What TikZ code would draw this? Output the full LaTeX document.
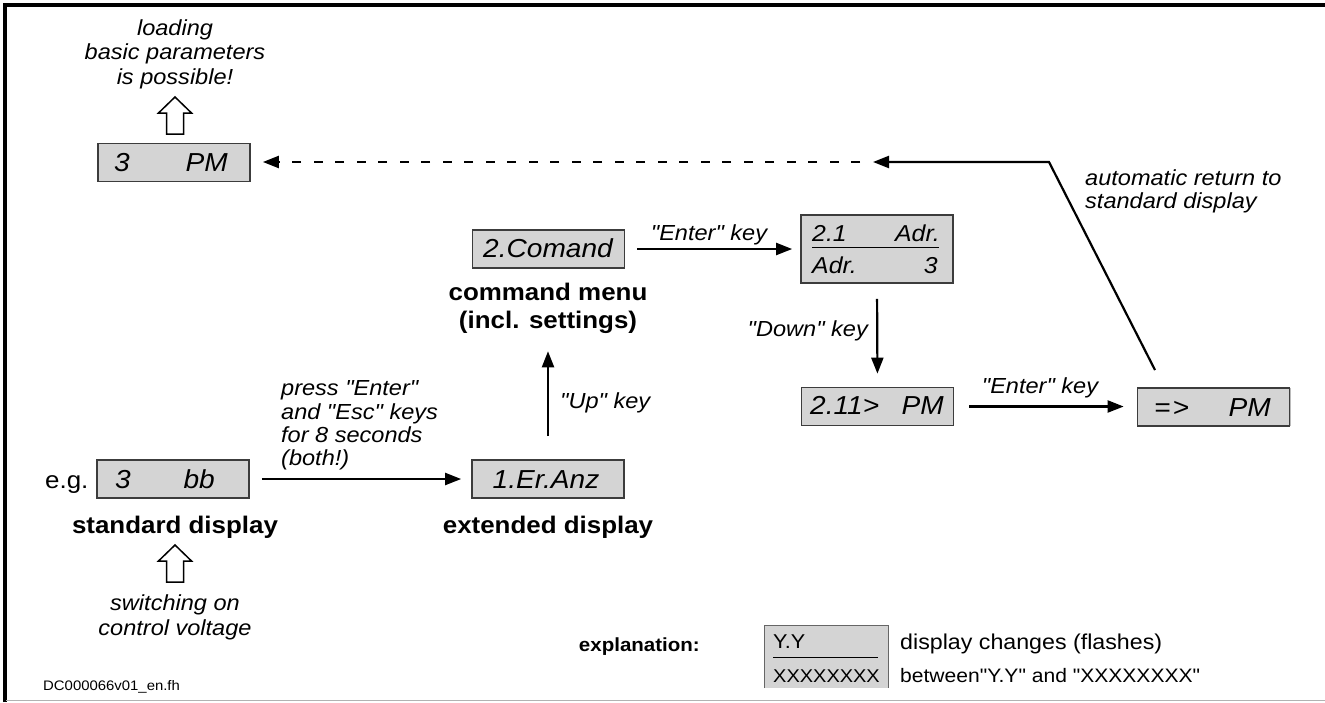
\documentclass[tikz,border=0pt]{standalone}
\usepackage{fontspec}
\setmainfont{Liberation Sans}[FakeStretch=1.08, Ligatures=TeXOff]
\usetikzlibrary{arrows.meta}
\definecolor{lcdfill}{RGB}{212,212,212}
\definecolor{lcdedge}{RGB}{60,60,60}
\begin{document}
\begin{tikzpicture}[x=1pt,y=-1pt,
  lcd/.style={draw=lcdedge, fill=lcdfill, line width=1.7pt, inner sep=0pt,
              minimum width=152pt, minimum height=38pt},
  lcdtxt/.style={font=\fontsize{26}{28}\selectfont\itshape, inner sep=0pt},
  lcdsmall/.style={font=\fontsize{23}{26}\selectfont\itshape, inner sep=0pt},
  lbl/.style={font=\fontsize{21.8}{24}\selectfont\itshape, inner sep=0pt},
  caption/.style={font=\fontsize{24}{28}\selectfont\bfseries, inner sep=0pt},
  note/.style={font=\fontsize{20}{22}\selectfont, inner sep=0pt},
  flow/.style={line width=2.2pt, -{Triangle[length=16pt,width=12pt]}},
  hollow/.style={draw=black, fill=white, line width=1.5pt, line join=miter}]

% page and frame
\useasboundingbox (0,0) rectangle (1325,702);
\fill[white] (0,0) rectangle (1325,702);
\draw[line width=3.5pt] (5.2,702) -- (5.2,4.8) -- (1325,4.8);
\draw[gray!60, line width=1pt] (6,700.5) -- (1325,700.5);

% display boxes
\node[lcd] (pm)    at (174,162.5) {};
\node[lcd] (bb)    at (173,479)   {};
\node[lcd] (comand) at (548.5,249) {};
\node[lcd, minimum height=68pt] (adr) at (877,249) {};
\node[lcd] (sub)   at (877.5,406.5) {};
\node[lcd] (done)  at (1213.5,407) {};
\node[lcd] (eranz) at (548,479)   {};
\draw[lcdfill!70!gray, line width=1.7pt] ([yshift=-0.9pt]done.north east) -- ([yshift=0.9pt]done.south east);

% display contents
\node[lcdtxt, anchor=base west] (pm-a) at (114,171.5) {3};
\node[lcdtxt, anchor=base east] (pm-b) at (228,171.5) {PM};
\node[lcdtxt, anchor=base west] (bb-a) at (115,488) {3};
\node[lcdtxt, anchor=base east] (bb-b) at (215,488) {bb};
\node[lcdtxt, anchor=base] (comand-t) at (548,257.5) {2.Comand};
\node[lcdsmall, anchor=base west] (adr-a) at (812,241.5) {2.1};
\node[lcdsmall, anchor=base east] (adr-b) at (940,241.5) {Adr.};
\node[lcdsmall, anchor=base west] (adr-c) at (812,273) {Adr.};
\node[lcdsmall, anchor=base east] (adr-d) at (938,273) {3};
\draw[line width=1.7pt] (812,247.5) -- (939,247.5);
\node[lcdtxt, anchor=base west] (sub-a) at (810,414.5) {2.11>};
\node[lcdtxt, anchor=base east] (sub-b) at (944,414.5) {PM};
\node[lcdtxt, anchor=base west] (done-a) at (1154,416) {=\kern2pt>};
\node[lcdtxt, anchor=base east] (done-b) at (1271,416) {PM};
\node[lcdtxt, anchor=base] (eranz-t) at (546,488) {1.Er.Anz};

% captions under the displays
\node[note, font=\fontsize{24}{26}\selectfont, anchor=base west] (eg) at (45,488) {e.g.};
\node[caption, anchor=base] (std) at (175,533) {standard display};
\node[caption, anchor=base] (ext) at (548,533) {extended display};
\node[caption, anchor=base] (cmd1) at (548,300) {command menu};
\node[caption, anchor=base] (cmd2) at (548,328) {(incl. settings)};

% remarks above and below
\node[lbl, anchor=base] (load1) at (175,35) {loading};
\node[lbl, anchor=base] (load2) at (175,59.5) {basic parameters};
\node[lbl, anchor=base] (load3) at (175,84) {is possible!};
\node[lbl, anchor=base] (sw1) at (175,610) {switching on};
\node[lbl, anchor=base] (sw2) at (175,635) {control voltage};

% hollow arrows
\draw[hollow] (175,97) -- (191.5,113) -- (183.5,113) -- (183.5,134) -- (166.5,134)
  -- (166.5,113) -- (158.5,113) -- cycle;
\draw[hollow] (175,545) -- (191.5,561) -- (183.5,561) -- (183.5,582) -- (166.5,582)
  -- (166.5,561) -- (158.5,561) -- cycle;

% key transitions
\draw[flow, shorten <=12pt, shorten >=10pt] (bb.east) -- (eranz.west);
\node[lbl, anchor=base west] (press1) at (281,395) {press "Enter"};
\node[lbl, anchor=base west] (press2) at (281,419) {and "Esc" keys};
\node[lbl, anchor=base west] (press3) at (281,442.5) {for 8 seconds};
\node[lbl, anchor=base west] (press4) at (281,465.5) {(both!)};

\draw[flow, shorten <=23pt] (eranz.north) -- ([yshift=-18pt]cmd2.south);
\node[lbl, anchor=base west] (up) at (560,408) {"Up" key};

\draw[flow, shorten <=12pt, shorten >=8pt] (comand.east) -- (comand.east -| adr.west);
\node[lbl, anchor=base] (enter1) at (709,240) {"Enter" key};

\draw[flow, shorten <=15pt, shorten >=13pt] (adr.south) -- (sub.north);
\node[lbl, anchor=base east] (down) at (868,336.5) {"Down" key};

\draw[flow, shorten <=15pt, shorten >=13pt] (sub.east) -- (sub.east -| done.west);
\node[lbl, anchor=base] (enter2) at (1040,393.5) {"Enter" key};

% automatic return
\coordinate (retA) at (1155,370);
\coordinate (retB) at (1049,162);
\coordinate (retC) at (873,162);
\coordinate (retD) at (860,162);
\draw[flow, line join=miter] (retA) -- (retB) -- (retC);
\draw[flow, dash pattern=on 9pt off 12.5pt, shorten >=12pt] (retD) -- (retD -| pm.east);
\node[lbl, anchor=base west] (auto1) at (1085,185) {automatic return to};
\node[lbl, anchor=base west] (auto2) at (1085,208.5) {standard display};

% legend
\node[note, font=\fontsize{19}{22}\selectfont\bfseries, anchor=base east] (expl) at (700,651) {explanation:};
\node[fill=lcdfill, draw=none, inner sep=0pt, minimum width=123pt, minimum height=62pt] (legend) at (826.5,657) {};
\draw[gray!80!black, line width=1.2pt] (legend.south west) -- (legend.north west)
  -- (legend.north east) -- (legend.south east);
\node[note, anchor=base west] (leg-a) at (773,648) {Y.Y};
\draw[line width=1.7pt] (773,657.5) -- (878,657.5);
\node[note, font=\fontsize{18.5}{22}\selectfont, anchor=base west] (leg-b) at (773,682) {XXXXXXXX};
\node[note, font=\fontsize{21.5}{22}\selectfont, anchor=base west] (legtxt1) at (900,649) {display changes (flashes)};
\node[note, font=\fontsize{19.5}{22}\selectfont, anchor=base west] (legtxt2) at (900,682) {between"Y.Y" and "XXXXXXXX"};

\node[note, font=\fontsize{13.8}{15}\selectfont, anchor=base west] (docid) at (43,690) {DC000066v01\_en.fh};
\end{tikzpicture}
\end{document}
